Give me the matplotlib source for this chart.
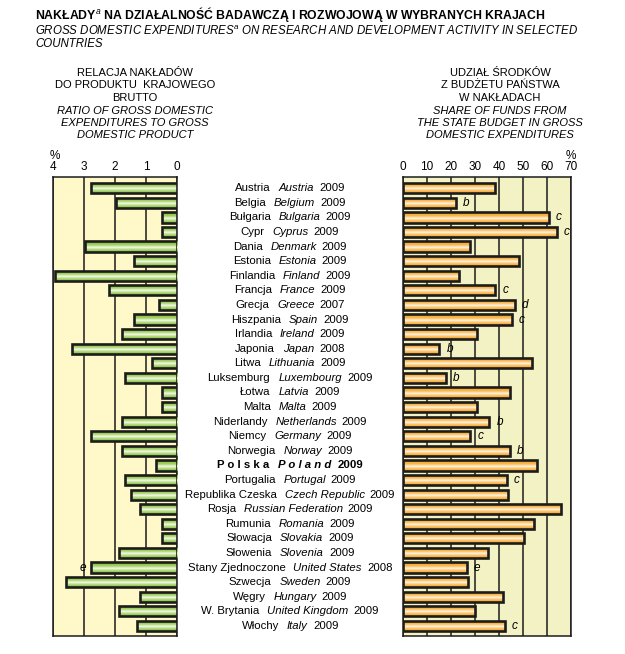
import numpy as np
import matplotlib
matplotlib.use('Agg')
import matplotlib.pyplot as plt
from matplotlib.colors import LinearSegmentedColormap
from matplotlib.transforms import blended_transform_factory

plt.rcParams['font.family'] = ['Liberation Sans', 'DejaVu Sans']
plt.rcParams['mathtext.fontset'] = 'custom'
plt.rcParams['mathtext.rm'] = 'Liberation Sans'
plt.rcParams['mathtext.it'] = 'Liberation Sans:italic'

# --- data ---
namesPl = ["Austria", "Belgia", "Bułgaria", "Cypr", "Dania", "Estonia", "Finlandia",
           "Francja", "Grecja", "Hiszpania", "Irlandia", "Japonia", "Litwa",
           "Luksemburg", "Łotwa", "Malta", "Niderlandy", "Niemcy", "Norwegia",
           "Polska", "Portugalia", "Republika Czeska", "Rosja", "Rumunia",
           "Słowacja", "Słowenia", "Stany Zjednoczone", "Szwecja", "Węgry",
           "W. Brytania", "Włochy"]
namesEn = ["Austria", "Belgium", "Bulgaria", "Cyprus", "Denmark", "Estonia", "Finland",
           "France", "Greece", "Spain", "Ireland", "Japan", "Lithuania",
           "Luxembourg", "Latvia", "Malta", "Netherlands", "Germany", "Norway",
           "Poland", "Portugal", "Czech Republic", "Russian Federation", "Romania",
           "Slovakia", "Slovenia", "United States", "Sweden", "Hungary",
           "United Kingdom", "Italy"]
years = ["2009", "2009", "2009", "2009", "2009", "2009", "2009",
         "2009", "2007", "2009", "2009", "2008", "2009",
         "2009", "2009", "2009", "2009", "2009", "2009",
         "2009", "2009", "2009", "2009", "2009",
         "2009", "2009", "2008", "2009", "2009",
         "2009", "2009"]
# ratio of GERD to GDP, %
gerdToGdp = [2.76, 1.96, 0.48, 0.48, 2.97, 1.38, 3.94, 2.18, 0.58, 1.38, 1.77, 3.38,
             0.80, 1.68, 0.47, 0.48, 1.78, 2.76, 1.78, 0.68, 1.68, 1.48, 1.18, 0.47,
             0.48, 1.88, 2.76, 3.58, 1.18, 1.86, 1.28]
gerdNotes = {"United States": "e"}
# share of state budget funds in GERD, %
budgetShare = [38.5, 22.0, 60.8, 64.0, 28.0, 48.5, 23.5, 38.5, 46.5, 45.3, 31.0, 15.2,
               53.8, 18.0, 44.5, 31.0, 36.0, 28.0, 44.5, 55.7, 43.3, 43.6, 65.9, 54.5,
               50.3, 35.4, 26.6, 27.0, 41.6, 30.2, 42.5]
budgetNotes = {"Belgium": "b", "Bulgaria": "c", "Cyprus": "c", "France": "c",
               "Greece": "d", "Spain": "c", "Japan": "b", "Luxembourg": "b",
               "Netherlands": "b", "Germany": "c", "Norway": "b", "Portugal": "c",
               "United States": "e", "Italy": "c"}

W, H = 625, 654
fig = plt.figure(figsize=(W / 100, H / 100), dpi=100)

def fx(px):
    return px / W

def fy(py):
    return 1 - py / H

n = len(namesPl)
rows = np.arange(n)
barH = 0.7
yTop, yBot = 177, 636
panelB, panelH = fy(yBot), (yBot - yTop) / H

axL = fig.add_axes([fx(53), panelB, fx(177) - fx(53), panelH])
axR = fig.add_axes([fx(403), panelB, fx(571) - fx(403), panelH])

# bar fill: coloured top and bottom, white streak a bit below the middle
greenMap = LinearSegmentedColormap.from_list(
    "g", [(0, "#79ba2c"), (0.35, "#a3cf62"), (0.58, "#f6fbee"), (0.72, "#c2e195"), (1, "#79ba2c")])
orangeMap = LinearSegmentedColormap.from_list(
    "o", [(0, "#f59d12"), (0.35, "#f8b850"), (0.58, "#fff6e8"), (0.72, "#fbcc80"), (1, "#f59d12")])
grad = np.linspace(0, 1, 64).reshape(-1, 1)


def drawPanel(ax, values, bg, cmap, xmax, step, invert):
    ax.set_facecolor(bg)
    bars = ax.barh(rows, values, height=barH, facecolor="none",
                   edgecolor="#1c1c1c", linewidth=1.9, zorder=4)
    for r, v, b in zip(rows, values, bars):
        im = ax.imshow(grad, cmap=cmap, aspect="auto", interpolation="bilinear",
                       extent=[0, v, r + barH / 2, r - barH / 2], zorder=3)
        im.set_clip_path(b)
    ticks = np.arange(0, xmax + 0.001, step)
    for t in ticks:
        ax.axvline(t, color="#1c1c1c", linewidth=1.1, zorder=1)
    if invert:
        ax.set_xlim(xmax, 0)
    else:
        ax.set_xlim(0, xmax)
    ax.set_ylim(n - 1 + 0.69, -0.77)
    ax.xaxis.tick_top()
    ax.set_xticks(ticks)
    ax.set_xticklabels([f"{int(t)}" for t in ticks])
    ax.tick_params(axis="x", length=0, pad=3, labelsize=8.5)
    ax.set_yticks([])
    for s in ax.spines.values():
        s.set_linewidth(1.1)
        s.set_color("#1c1c1c")


drawPanel(axL, gerdToGdp, "#fff8c8", greenMap, 4, 1, True)
drawPanel(axR, budgetShare, "#f2f2c4", orangeMap, 70, 10, False)

# footnote letters
for r, en in enumerate(namesEn):
    if en in budgetNotes:
        axR.annotate(budgetNotes[en], (budgetShare[r], r), xytext=(5, 0),
                     textcoords="offset points", style="italic", fontsize=8.5,
                     va="center", ha="left")
    if en in gerdNotes:
        axL.annotate(gerdNotes[en], (gerdToGdp[r], r), xytext=(-4, 0),
                     textcoords="offset points", style="italic", fontsize=8.5,
                     va="center", ha="right")

# centre labels: Polish, English (italic), year
fig.canvas.draw()
renderer = fig.canvas.get_renderer()
trans = blended_transform_factory(fig.transFigure, axL.transData)
centerPx = 290
for r in rows:
    if namesPl[r] == "Polska":
        parts = [(" ".join("Polska"), dict(weight="bold"), 9),
                 (" ".join("Poland"), dict(weight="bold", style="italic"), 6),
                 (years[r], dict(weight="bold"), 0)]
    else:
        parts = [(namesPl[r], {}, 8), (namesEn[r], dict(style="italic"), 5), (years[r], {}, 0)]
    texts = []
    widths = []
    for s, kw, gap in parts:
        t = fig.text(0, r, s, transform=trans, fontsize=8.2, va="center", ha="left", **kw)
        texts.append(t)
        widths.append(t.get_window_extent(renderer).width + gap)
    x = centerPx - sum(widths) / 2
    for t, w in zip(texts, widths):
        t.set_x(fx(x))
        x += w

# percent signs
fig.text(fx(55), fy(156), "%", fontsize=8.5, ha="center", va="center")
fig.text(fx(571), fy(156), "%", fontsize=8.5, ha="center", va="center")

# headers
leftHead = ["RELACJA NAKŁADÓW", "DO PRODUKTU  KRAJOWEGO", "BRUTTO"]
leftHeadEn = ["RATIO OF GROSS DOMESTIC", "EXPENDITURES TO GROSS", "DOMESTIC PRODUCT"]
rightHead = ["UDZIAŁ ŚRODKÓW", "Z BUDŻETU PAŃSTWA", "W NAKŁADACH"]
rightHeadEn = ["SHARE OF FUNDS FROM", "THE STATE BUDGET IN GROSS", "DOMESTIC EXPENDITURES"]
for i, (a, b) in enumerate(zip(leftHead, rightHead)):
    y = 73 + 12.4 * i
    fig.text(fx(135), fy(y), a, fontsize=8, ha="center", va="center")
    fig.text(fx(500), fy(y), b, fontsize=8, ha="center", va="center")
for i, (a, b) in enumerate(zip(leftHeadEn, rightHeadEn)):
    y = 110.5 + 12.4 * i
    fig.text(fx(135), fy(y), a, fontsize=8, ha="center", va="center", style="italic")
    fig.text(fx(500), fy(y), b, fontsize=8, ha="center", va="center", style="italic")

# title
fig.text(fx(35), fy(14), "NAKŁADY$^a$ NA DZIAŁALNOŚĆ BADAWCZĄ I ROZWOJOWĄ W WYBRANYCH KRAJACH",
         fontsize=8.8, weight="bold", ha="left", va="center")
fig.text(fx(35), fy(31), "GROSS DOMESTIC EXPENDITURES$^a$ ON RESEARCH AND DEVELOPMENT ACTIVITY IN SELECTED",
         fontsize=8.3, style="italic", ha="left", va="center")
fig.text(fx(35), fy(44), "COUNTRIES", fontsize=8.3, style="italic", ha="left", va="center")

fig.savefig("out.png", dpi=100)
